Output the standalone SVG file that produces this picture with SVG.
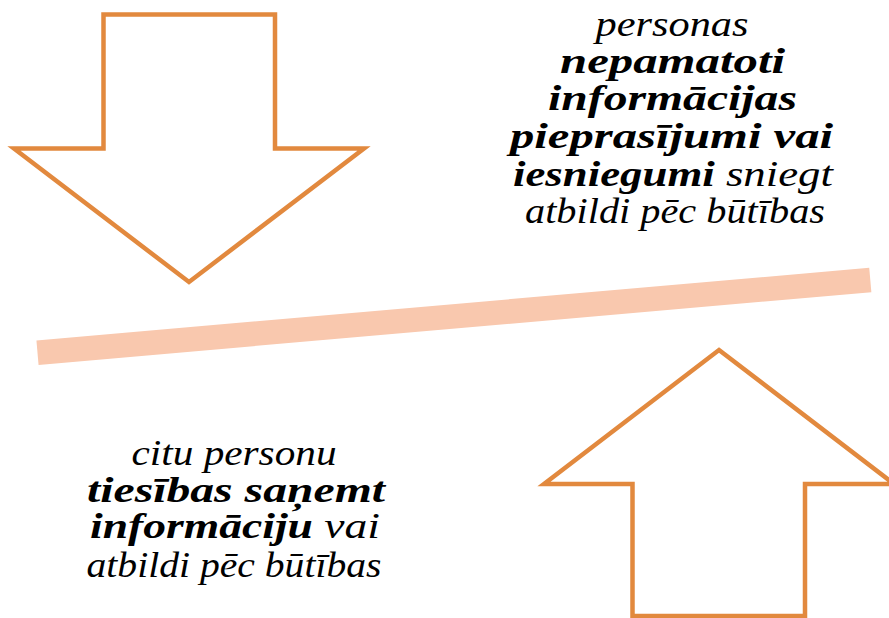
<svg xmlns="http://www.w3.org/2000/svg" width="889" height="618" viewBox="0 0 889 618">
<style>
.arrow{fill:#ffffff;stroke:#e2893e;stroke-width:4.5;stroke-linejoin:miter}
.t{font-family:"Liberation Serif","DejaVu Serif",serif;font-style:italic;font-size:36px;fill:#000;text-anchor:middle}
.b{font-weight:bold}
</style>
<rect width="889" height="618" fill="#ffffff"/>
<g id="connectors">
<line x1="37.5" y1="352.7" x2="870.3" y2="280" stroke="#f9c8ae" stroke-width="24.5" stroke-linecap="butt"/>
</g>
<g id="arrow-down">
<polygon class="arrow" points="103.5,14.5 275,14.5 275,148.5 364,148.5 189,282 14,148.5 103.5,148.5"/>
</g>
<g id="arrow-up">
<polygon class="arrow" points="719,350 894,484 805,484 805,616 632.5,616 632.5,484 544,484"/>
</g>
<g id="text-top">
<text class="t" x="672" y="35.7" textLength="153" lengthAdjust="spacingAndGlyphs">personas</text>
<text class="t b" x="672.5" y="72.7" textLength="225" lengthAdjust="spacingAndGlyphs">nepamatoti</text>
<text class="t b" x="672.5" y="110" textLength="249" lengthAdjust="spacingAndGlyphs">informācijas</text>
<text class="t b" x="671.5" y="148.3" textLength="323" lengthAdjust="spacingAndGlyphs">pieprasījumi vai</text>
<text class="t" x="673" y="185.7" textLength="320" lengthAdjust="spacingAndGlyphs"><tspan class="b">iesniegumi</tspan> sniegt</text>
<text class="t" x="675" y="223.3" textLength="300" lengthAdjust="spacingAndGlyphs">atbildi pēc būtības</text>
</g>
<g id="text-bottom">
<text class="t" x="234" y="465" textLength="205" lengthAdjust="spacingAndGlyphs">citu personu</text>
<text class="t b" x="236" y="501.7" textLength="298" lengthAdjust="spacingAndGlyphs">tiesības saņemt</text>
<text class="t" x="235" y="538" textLength="290" lengthAdjust="spacingAndGlyphs"><tspan class="b">informāciju</tspan> vai</text>
<text class="t" x="234" y="576.7" textLength="295" lengthAdjust="spacingAndGlyphs">atbildi pēc būtības</text>
</g>
</svg>
